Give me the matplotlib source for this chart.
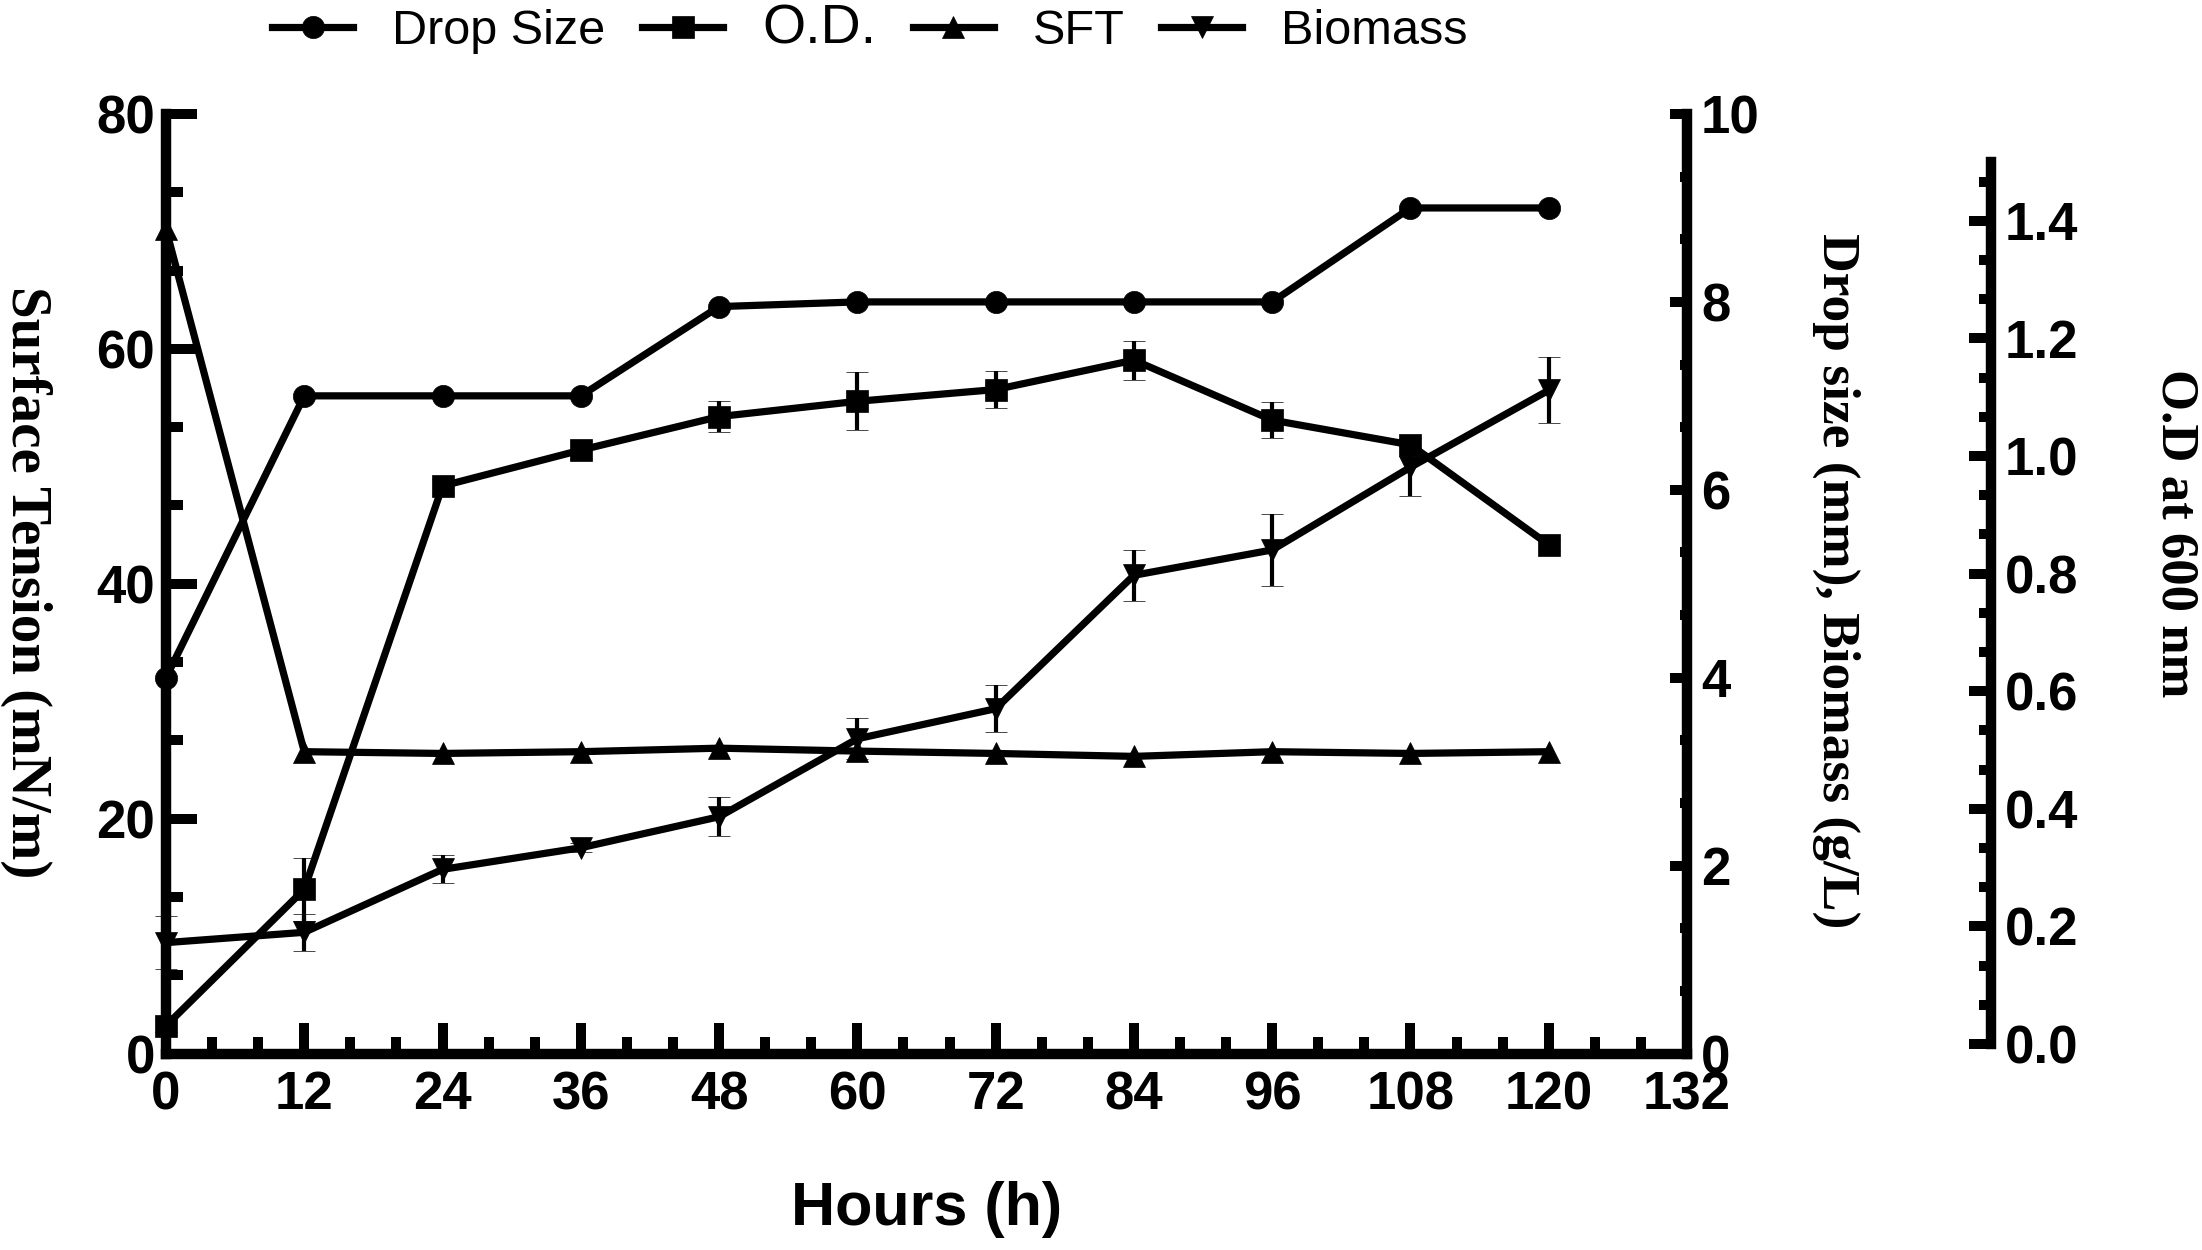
import matplotlib
matplotlib.use("Agg")
import matplotlib.pyplot as plt
from matplotlib.ticker import MultipleLocator, FixedLocator, FormatStrFormatter
import numpy as np

# data
hours = [0, 12, 24, 36, 48, 60, 72, 84, 96, 108, 120]
drop_size = [4.0, 7.0, 7.0, 7.0, 7.95, 8.0, 8.0, 8.0, 8.0, 9.0, 9.0]          # mm
od = [0.031, 0.263, 0.949, 1.010, 1.067, 1.093, 1.113, 1.163, 1.061, 1.019, 0.849]
od_err = [0.01, 0.054, 0.012, 0.015, 0.026, 0.049, 0.031, 0.033, 0.031, 0.012, 0.01]
sft = [70.2, 25.7, 25.55, 25.7, 26.0, 25.75, 25.55, 25.3, 25.7, 25.55, 25.7]   # mN/m
biomass = [1.18, 1.29, 1.96, 2.19, 2.52, 3.35, 3.67, 5.09, 5.36, 6.24, 7.06]   # g/L
biomass_err = [0.28, 0.2, 0.15, 0.05, 0.21, 0.22, 0.25, 0.27, 0.385, 0.31, 0.35]

legend_labels = ["Drop Size", "O.D.", "SFT", "Biomass"]

plt.rcParams['font.family'] = ['Liberation Sans', 'DejaVu Sans']
plt.rcParams['font.weight'] = 'bold'

W, H = 2202, 1250
fig = plt.figure(figsize=(W / 100, H / 100), dpi=100)
ax = fig.add_axes([166 / W, 1 - 1053.5 / H, 1521 / W, 939.5 / H])
ax2 = ax.twinx()
ax_od = ax.twinx()

SPW = 7.5
TW = 7.2
LW = 5.2
MS = 16

# axes limits / ticks
ax.set_xlim(0, 132)
ax.set_ylim(0, 80)
ax2.set_ylim(0, 10)
ax_od.set_ylim(-0.0162, 1.5816)

ax.xaxis.set_major_locator(MultipleLocator(12))
ax.xaxis.set_minor_locator(MultipleLocator(4))
ax.yaxis.set_major_locator(MultipleLocator(20))
ax.yaxis.set_minor_locator(MultipleLocator(20 / 3))
ax2.yaxis.set_major_locator(MultipleLocator(2))
ax2.yaxis.set_minor_locator(MultipleLocator(2 / 3))
ax_od.yaxis.set_major_locator(FixedLocator(np.arange(0, 1.41, 0.2)))
ax_od.yaxis.set_minor_locator(FixedLocator(np.arange(0, 1.48, 0.2 / 3)))
ax_od.yaxis.set_major_formatter(FormatStrFormatter('%.1f'))

for s in ['top', 'right']:
    ax.spines[s].set_visible(False)
for s in ['top', 'left', 'bottom']:
    ax2.spines[s].set_visible(False)
    ax_od.spines[s].set_visible(False)
ax.spines['left'].set_linewidth(SPW)
ax.spines['bottom'].set_linewidth(SPW)
ax2.spines['right'].set_linewidth(SPW)
ax_od.spines['right'].set_linewidth(SPW)
ax_od.spines['right'].set_position(('axes', 1.2))
ax_od.spines['right'].set_bounds(0, 1.5)

ax.tick_params(axis='x', which='major', direction='in', length=22, width=TW, pad=12, labelsize=38)
ax.tick_params(axis='x', which='minor', direction='in', length=12, width=TW)
ax.tick_params(axis='y', which='major', direction='in', length=22, width=TW, pad=8, labelsize=38, right=False)
ax.tick_params(axis='y', which='minor', direction='in', length=12, width=TW, right=False)
ax2.tick_params(axis='y', which='major', direction='in', length=12, width=TW, pad=10, labelsize=38)
ax2.tick_params(axis='y', which='minor', direction='in', length=5, width=TW)
ax_od.tick_params(axis='y', which='major', direction='in', length=16, width=TW, pad=10, labelsize=38)
ax_od.tick_params(axis='y', which='minor', direction='in', length=9, width=TW)

# series
l_sft, = ax.plot(hours, sft, '-^', color='k', lw=LW, ms=MS, mew=0.5, clip_on=False, zorder=5)
l_drop, = ax2.plot(hours, drop_size, '-o', color='k', lw=LW, ms=MS, mew=0.5, clip_on=False, zorder=5)
eb_bio = ax2.errorbar(hours, biomass, yerr=biomass_err, fmt='-v', color='k', lw=LW, ms=MS, mew=0.5,
                      capsize=8, capthick=3, elinewidth=3, zorder=5)
eb_od = ax_od.errorbar(hours, od, yerr=od_err, fmt='-s', color='k', lw=LW, ms=MS, mew=0.5,
                       capsize=8, capthick=3, elinewidth=3, zorder=5)
for eb in (eb_bio, eb_od):
    eb[0].set_clip_on(False)
    for a in list(eb[1]) + list(eb[2]):
        a.set_clip_on(False)

# labels
fig.text(927 / W, 1 - 1210 / H, "Hours (h)", fontsize=44, fontweight='bold',
         ha='center', va='center')
fig.text(26 / W, 1 - 582 / H, "Surface Tension (mN/m)", family='Liberation Serif',
         fontsize=41, fontweight='bold', rotation=270, ha='center', va='center')
fig.text(1836 / W, 1 - 581 / H, "Drop size (mm), Biomass (g/L)", family='Liberation Serif',
         fontsize=38.5, fontweight='bold', rotation=270, ha='center', va='center')
fig.text(2175 / W, 1 - 533 / H, "O.D at 600 nm", family='Liberation Serif',
         fontsize=38, fontweight='bold', rotation=270, ha='center', va='center')

leg = fig.legend([l_drop, eb_od[0], l_sft, eb_bio[0]], legend_labels, loc='center',
                 bbox_to_anchor=(870 / W, 1 - 30 / H), ncol=4, frameon=False,
                 prop={'size': 35, 'weight': 'normal'}, handlelength=1.67,
                 handletextpad=0.8, columnspacing=0.75, borderpad=0, borderaxespad=0)
leg.get_texts()[1].set_fontsize(40)

fig.savefig("out.png", dpi=100)
